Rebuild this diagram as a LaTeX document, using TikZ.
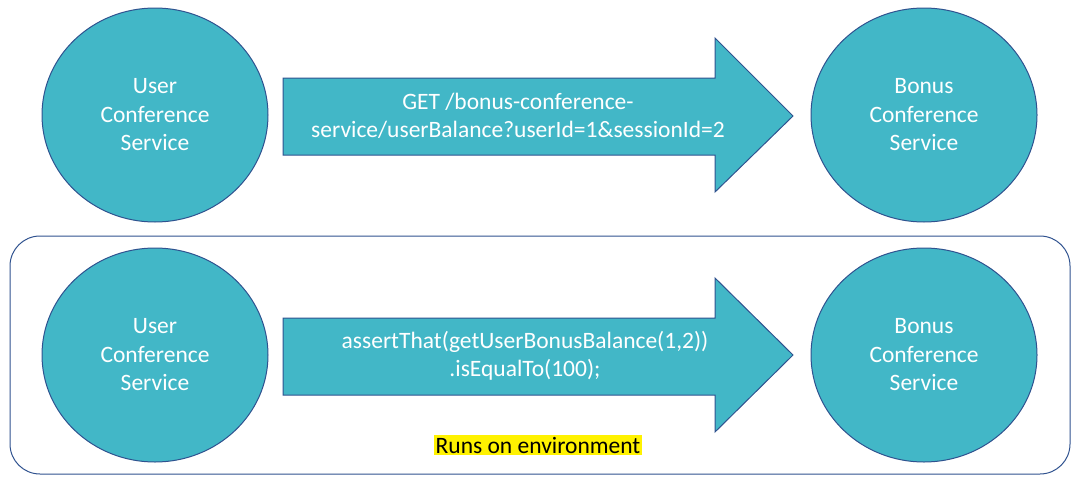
\documentclass[tikz,border=0pt]{standalone}
\usepackage{fontspec}
\setmainfont{Carlito}
\usetikzlibrary{shapes.geometric}
\definecolor{tealf}{RGB}{66,183,199}
\definecolor{edge}{RGB}{47,82,143}
\begin{document}
\begin{tikzpicture}[x=1pt,y=-1pt,
  svc/.style={ellipse,fill=tealf,draw=edge,line width=1pt,minimum width=226pt,minimum height=214pt,text=white,align=center,font=\fontsize{23.5}{28.5}\selectfont},
  arr/.style={fill=tealf,draw=edge,line width=1pt},
  lbl/.style={text=white,align=center,font=\fontsize{23.5}{28.5}\selectfont}]
\useasboundingbox (0,0) rectangle (1078,482);
\draw[edge,line width=1pt,rounded corners=30pt] (10,236) rectangle (1070,474);
\node[svc] (u1) at (155,115) {User\\Conference\\Service};
\node[svc] (b1) at (924,115) {Bonus\\Conference\\Service};
\node[svc] (u2) at (155,355) {User\\Conference\\Service};
\node[svc] (b2) at (924,355) {Bonus\\Conference\\Service};
\draw[arr] (283,78) -- (715,78) -- (715,38) -- (793,116) -- (715,192) -- (715,155) -- (283,155) -- cycle;
\draw[arr] (283,318) -- (715,318) -- (715,278) -- (793,355) -- (715,432) -- (715,395) -- (283,395) -- cycle;
\node[lbl] (t1) at (518,116) {GET /bonus-conference-\\service/userBalance?userId=1\&sessionId=2};
\node[lbl] (t2) at (525,356) {assertThat(getUserBonusBalance(1,2))\\.isEqualTo(100);};
\node[fill=yellow,inner sep=1.5pt,font=\fontsize{23.5}{26}\selectfont] (env) at (538,445) {Runs on environment};
\end{tikzpicture}
\end{document}
